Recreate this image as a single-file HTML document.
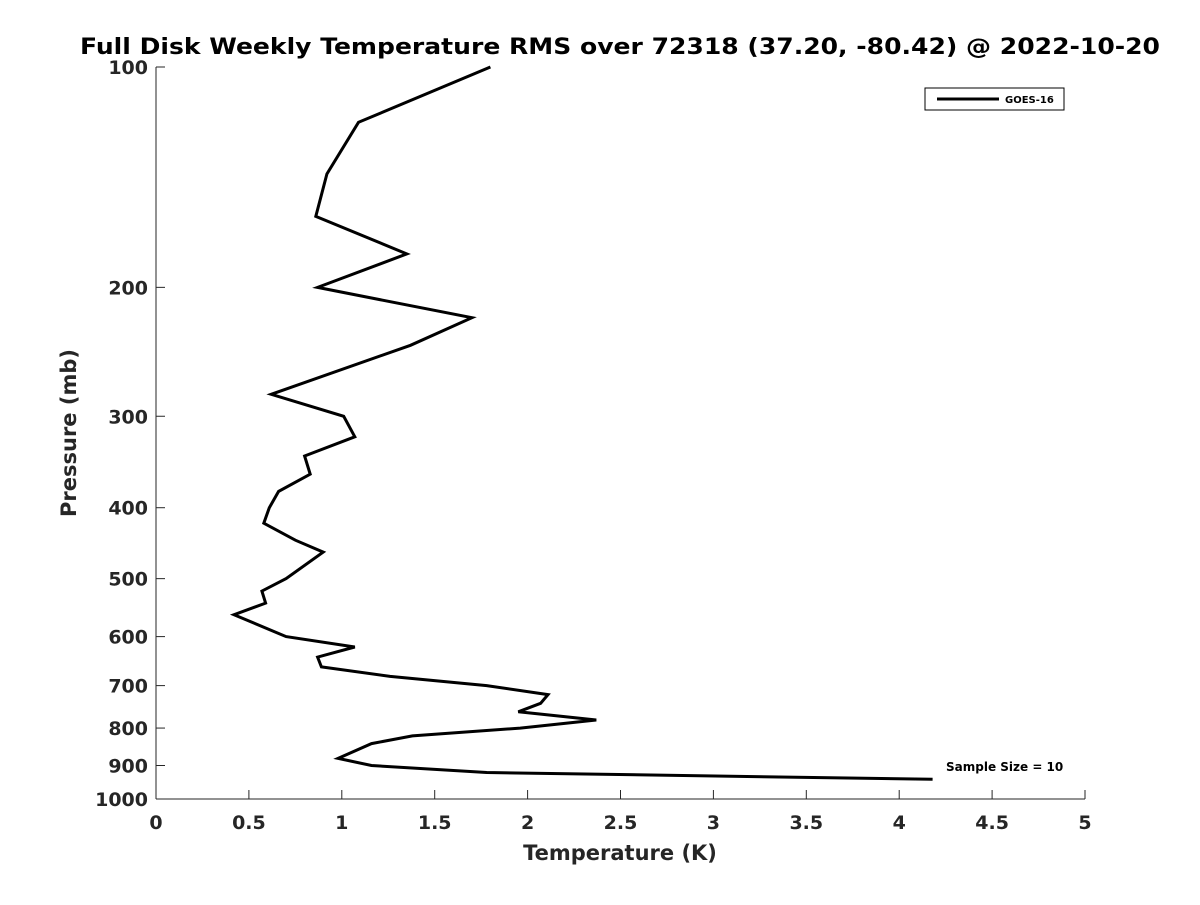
<!DOCTYPE html>
<html><head><meta charset="utf-8"><style>
body{margin:0;background:#fff;}
svg text{font-family:"DejaVu Sans","Liberation Sans",sans-serif;font-weight:bold;fill:#262626;}
</style></head><body>
<svg id="chart" width="1200" height="900" viewBox="0 0 1200 900">
<rect width="1200" height="900" fill="#fff"/>
<text x="80" y="54" font-size="22" textLength="1080" lengthAdjust="spacingAndGlyphs" style="fill:#000">Full Disk Weekly Temperature RMS over 72318 (37.20, -80.42) @ 2022-10-20</text>
<g id="axes"></g>
<g id="series"></g>
<text x="620" y="860" font-size="21" text-anchor="middle">Temperature (K)</text>
<text transform="translate(76,433) rotate(-90)" font-size="21" text-anchor="middle">Pressure (mb)</text>
<g>
<rect x="925" y="88" width="139" height="22" fill="#fff" stroke="#000" stroke-width="1"/>
<line x1="937" y1="99" x2="999" y2="99" stroke="#000" stroke-width="3"/>
<text x="1005" y="103" font-size="10" style="fill:#000">GOES-16</text>
</g>
<text x="946" y="771" font-size="12" style="fill:#000">Sample Size = 10</text>
</svg>
<script>
const pressures=[100,119,140,160,180,200,220,240,280,300,320,340,360,380,400,420,443,460,500,520,540,560,600,620,640,660,680,700,720,740,760,780,800,820,840,880,900,920,940];
const temps=[1.80,1.09,0.92,0.86,1.35,0.87,1.70,1.37,0.62,1.01,1.07,0.80,0.83,0.66,0.61,0.58,0.75,0.90,0.70,0.57,0.59,0.42,0.70,1.07,0.87,0.89,1.26,1.78,2.11,2.07,1.95,2.37,1.96,1.38,1.16,0.98,1.16,1.78,4.18];
const xTicks=[0,0.5,1,1.5,2,2.5,3,3.5,4,4.5,5];
const xTickLabels=["0","0.5","1","1.5","2","2.5","3","3.5","4","4.5","5"];
const yTicks=[100,200,300,400,500,600,700,800,900,1000];
const yTickLabels=["100","200","300","400","500","600","700","800","900","1000"];
const NS="http://www.w3.org/2000/svg";
const X0=156,X1=1085,Y0=67,Y1=799;
function xs(t){return X0+(t-0)/(5-0)*(X1-X0);}
function ys(p){return Y0+Math.log10(p/100)*(Y1-Y0);}
function mk(tag,attrs,parent){const e=document.createElementNS(NS,tag);for(const k in attrs)e.setAttribute(k,attrs[k]);parent.appendChild(e);return e;}
const ax=document.getElementById('axes');
let l=mk('line',{x1:X0,y1:Y0,x2:X0,y2:Y1,stroke:'#262626','stroke-width':1},ax);


l=mk('line',{x1:X0,y1:Y1,x2:X1,y2:Y1,stroke:'#262626','stroke-width':1},ax);


xTicks.forEach((t,i)=>{
 const x=xs(t);
 const tk=mk('line',{x1:x,y1:Y1,x2:x,y2:Y1-9,stroke:'#262626','stroke-width':1},ax);
 
 
 const tx=mk('text',{x:x,y:Y1+30,'font-size':19,'text-anchor':'middle'},ax);
 tx.textContent=xTickLabels[i];
 
 
});
yTicks.forEach((p,i)=>{
 const y=ys(p);
 const tk=mk('line',{x1:X0,y1:y,x2:X0+9,y2:y,stroke:'#262626','stroke-width':1},ax);
 
 
 const tx=mk('text',{x:X0-8,y:y+7,'font-size':19,'text-anchor':'end'},ax);
 tx.textContent=yTickLabels[i];
 
 
});
const pts=temps.map((t,i)=>xs(t).toFixed(1)+','+ys(pressures[i]).toFixed(1)).join(' ');
const pl=mk('polyline',{points:pts,fill:'none',stroke:'#000','stroke-width':3,'stroke-linejoin':'miter'},document.getElementById('series'));


</script>
</body></html>
